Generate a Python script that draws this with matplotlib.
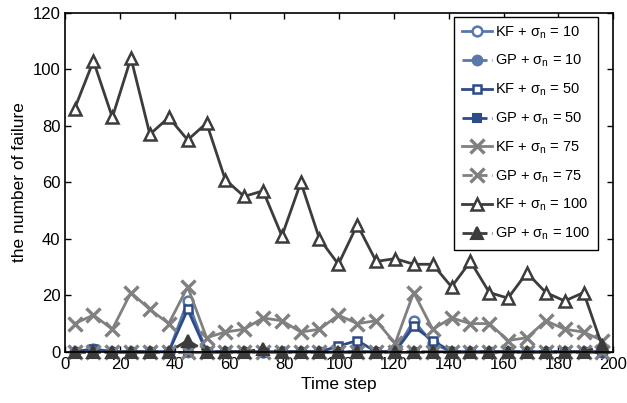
import matplotlib
matplotlib.use("Agg")
import matplotlib.pyplot as plt

plt.rcParams['font.family'] = ['Liberation Sans', 'DejaVu Sans']
plt.rcParams['mathtext.fontset'] = 'custom'
plt.rcParams['mathtext.rm'] = 'Liberation Sans'
plt.rcParams['mathtext.it'] = 'Liberation Sans:italic'

# time steps
steps = [3.4, 10.3, 17.2, 24.0, 30.9, 37.8, 44.7, 51.6, 58.4, 65.3,
         72.2, 79.1, 86.0, 92.8, 99.7, 106.6, 113.5, 120.4, 127.2, 134.1,
         141.0, 147.9, 154.8, 161.6, 168.5, 175.4, 182.3, 189.2, 196.0]

kf_10 = [0, 1, 0, 0, 0, 0, 18, 0, 0, 0, 0, 0, 0, 0, 0, 0, 0, 0, 11, 3,
         0, 0, 0, 0, 0, 0, 0, 0, 0]
gp_10 = [0, 0, 0, 0, 0, 0, 0, 0, 0, 0, 0, 0, 0, 0, 0, 0, 0, 0, 0, 0,
         0, 0, 0, 0, 0, 0, 0, 0, 0]
kf_50 = [0, 1, 0, 0, 0, 0, 15, 0, 0, 0, 0, 0, 0, 0, 2, 4, 0, 0, 9, 4,
         0, 0, 0, 0, 0, 0, 0, 0, 0]
gp_50 = [0, 0, 0, 0, 0, 0, 0, 0, 0, 0, 0, 0, 0, 0, 0, 0, 0, 0, 0, 0,
         0, 0, 0, 0, 0, 0, 0, 0, 0]
kf_75 = [10, 13, 8, 21, 15, 10, 23, 5, 7, 8, 12, 11, 7, 8, 13, 10, 11, 3, 21, 8,
         12, 10, 10, 4, 5, 11, 8, 7, 4]
gp_75 = [0, 0, 0, 0, 0, 0, 0, 0, 0, 0, 0, 0, 0, 0, 0, 0, 0, 0, 0, 0,
         0, 0, 0, 0, 0, 0, 0, 0, 0]
kf_100 = [86, 103, 83, 104, 77, 83, 75, 81, 61, 55, 57, 41, 60, 40, 31, 45, 32, 33, 31, 31,
          23, 32, 21, 19, 28, 21, 18, 21, 2]
gp_100 = [0, 0, 0, 0, 0, 0, 4, 0, 0, 0, 1, 0, 0, 0, 0, 0, 0, 0, 0, 0,
          0, 0, 0, 0, 0, 0, 0, 0, 2]

c10 = '#5a77ab'
c50 = '#2d4b88'
c75 = '#808080'
c100 = '#3c3c3c'

fig = plt.figure(figsize=(6.27, 4.03), dpi=100)
ax = fig.add_axes([0.104, 0.127, 0.874, 0.841])

lab = r'%s + $\mathregular{\sigma_n}$ = %d'
ax.plot(steps, kf_10, '-', color=c10, lw=2, marker='o', ms=7, mfc='white', mew=1.8,
        label=lab % ('KF', 10), clip_on=False)
ax.plot(steps, gp_10, '--', color=c10, lw=2, marker='o', ms=7, mfc=c10, mew=1.5,
        label=lab % ('GP', 10), clip_on=False)
ax.plot(steps, kf_50, '-', color=c50, lw=2, marker='s', ms=6, mfc='white', mew=1.8,
        label=lab % ('KF', 50), clip_on=False)
ax.plot(steps, gp_50, '--', color=c50, lw=2, marker='s', ms=6, mfc=c50, mew=1.5,
        label=lab % ('GP', 50), clip_on=False)
ax.plot(steps, kf_75, '-', color=c75, lw=2, marker='x', ms=10, mew=2.4,
        label=lab % ('KF', 75), clip_on=False)
ax.plot(steps, gp_75, '--', color=c75, lw=2, marker='x', ms=10, mew=2.4,
        label=lab % ('GP', 75), clip_on=False)
ax.plot(steps, kf_100, '-', color=c100, lw=2, marker='^', ms=9, mfc='white', mew=1.8,
        label=lab % ('KF', 100), clip_on=False)
ax.plot(steps, gp_100, '--', color=c100, lw=2, marker='^', ms=9, mfc=c100, mew=1.5,
        label=lab % ('GP', 100), clip_on=False)

ax.set_xlim(0, 200)
ax.set_ylim(0, 120)
ax.set_xticks(range(0, 201, 20))
ax.set_yticks(range(0, 121, 20))
ax.tick_params(direction='in', top=True, right=True, labelsize=12, length=4, width=1)
for s in ax.spines.values():
    s.set_linewidth(1.2)
ax.set_xlabel('Time step', fontsize=12.5)
ax.set_ylabel('the number of failure', fontsize=12.5)

leg = ax.legend(loc='upper right', bbox_to_anchor=(0.9726, 0.988), fontsize=10.5,
                frameon=True, fancybox=False, edgecolor='black', framealpha=1,
                handlelength=2.1, handletextpad=0.2, labelspacing=0.85,
                borderaxespad=0, borderpad=0.5)
leg.get_frame().set_linewidth(1.0)

fig.savefig('out.png', dpi=100)
